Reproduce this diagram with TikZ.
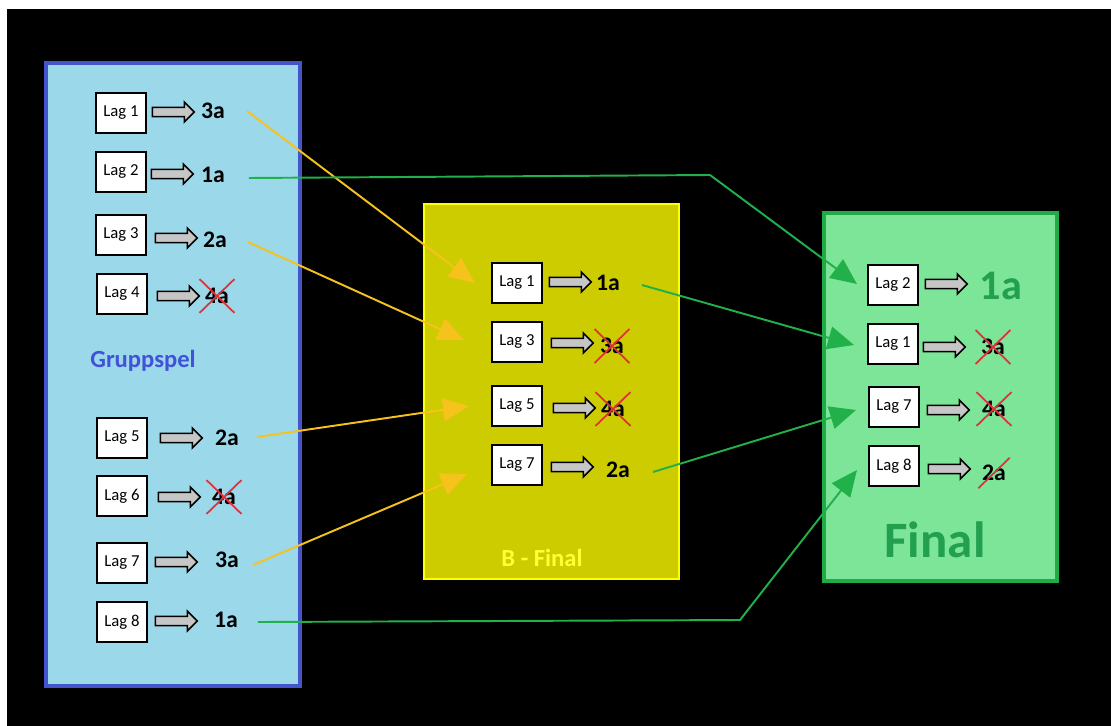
\documentclass[tikz,border=0pt]{standalone}
\usepackage{fontspec}
\setmainfont{Carlito}
\usetikzlibrary{arrows.meta,shapes.arrows,calc}

\definecolor{gblue}{HTML}{9BD8EA}
\definecolor{gblueline}{HTML}{4455CC}
\definecolor{gbluetext}{HTML}{4152D8}
\definecolor{bfill}{HTML}{CCCC00}
\definecolor{bline}{HTML}{FFFF00}
\definecolor{btext}{HTML}{FFFF33}
\definecolor{ffill}{HTML}{7CE597}
\definecolor{fline}{HTML}{22AA46}
\definecolor{ftext}{HTML}{22A050}
\definecolor{ylink}{HTML}{F6C21C}
\definecolor{glink}{HTML}{22B04B}
\definecolor{xred}{HTML}{E0303A}

\begin{document}
\begin{tikzpicture}[x=0.02cm,y=-0.02cm,
  lag/.style={draw=black, fill=white, line width=1.2pt, minimum width=1cm,
    minimum height=0.8cm, inner sep=0pt, font=\fontsize{9.5}{9.5}\selectfont},
  pil/.style={single arrow, draw=black, fill=gray!45, line width=0.9pt,
    minimum height=0.84cm, inner sep=2.2pt, single arrow head extend=3pt},
  res/.style={font=\bfseries\fontsize{13.5}{13.5}\selectfont, inner sep=1pt},
  kryss/.style={res, inner xsep=3pt, inner ysep=5pt,
    append after command={(\tikzlastnode.north west) edge[xline] (\tikzlastnode.south east)
      (\tikzlastnode.south west) edge[xline] (\tikzlastnode.north east)}},
  strek/.style={res, inner xsep=2pt, inner ysep=4pt,
    append after command={(\tikzlastnode.south west) edge[xline] (\tikzlastnode.north east)}},
  xline/.style={draw=xred, line width=1pt},
  gul/.style={draw=ylink, line width=1.1pt, -{Triangle[length=0.52cm,width=0.46cm]}},
  gron/.style={draw=glink, line width=1.1pt, -{Triangle[length=0.52cm,width=0.46cm]}}
]

\useasboundingbox (0,0) rectangle (1111,726);
\fill[white] (0,0) rectangle (1111,726);
\fill[black] (7,9) rectangle (1111,726);

% panels
\draw[fill=gblue, draw=gblueline, line width=1.8pt] (46,63) rectangle (300,686);
\draw[fill=bfill, draw=bline, line width=1.3pt] (424,204) rectangle (679,579);
\draw[fill=ffill, draw=fline, line width=1.8pt] (824,213) rectangle (1057,581);

\node[text=gbluetext, font=\bfseries\fontsize{14}{14}\selectfont] (grp) at (143,361) {Gruppspel};
\node[text=btext, font=\bfseries\fontsize{14}{14}\selectfont] (bfin) at (542,558) {B - Final};
\node[text=ftext, font=\bfseries\fontsize{29}{29}\selectfont] (fin) at (935,540) {Final};

% Gruppspel
\node[lag] (g1) at (121,113) {Lag 1};
\node[pil] (g1p) at (171,112) {};
\node[res] (g1r) at (213,111) {3a};
\node[lag] (g2) at (121,172) {Lag 2};
\node[pil] (g2p) at (170,174) {};
\node[res] (g2r) at (213,175) {1a};
\node[lag] (g3) at (121,235) {Lag 3};
\node[pil] (g3p) at (174,238) {};
\node[res] (g3r) at (215,240) {2a};
\node[lag] (g4) at (122,294) {Lag 4};
\node[pil] (g4p) at (176,296) {};
\node[kryss] (g4r) at (217,296) {4a};

\node[lag] (g5) at (122,438) {Lag 5};
\node[pil] (g5p) at (179,438) {};
\node[res] (g5r) at (227,438) {2a};
\node[lag] (g6) at (122,496) {Lag 6};
\node[pil] (g6p) at (177,497) {};
\node[kryss] (g6r) at (224,497) {4a};
\node[lag] (g7) at (122,563) {Lag 7};
\node[pil] (g7p) at (174,562) {};
\node[res] (g7r) at (227,560) {3a};
\node[lag] (g8) at (122,622) {Lag 8};
\node[pil] (g8p) at (174,621) {};
\node[res] (g8r) at (226,620) {1a};

% B - Final
\node[lag] (b1) at (517,283) {Lag 1};
\node[pil] (b1p) at (568,282) {};
\node[res] (b1r) at (608,283) {1a};
\node[lag] (b3) at (517,342) {Lag 3};
\node[pil] (b3p) at (570,343) {};
\node[kryss] (b3r) at (612,346) {3a};
\node[lag] (b5) at (517,406) {Lag 5};
\node[pil] (b5p) at (572,408) {};
\node[kryss] (b5r) at (613,409) {4a};
\node[lag] (b7) at (517,465) {Lag 7};
\node[pil] (b7p) at (570,467) {};
\node[res] (b7r) at (618,470) {2a};

% Final
\node[lag] (f2) at (893,285) {Lag 2};
\node[pil] (f2p) at (944,284) {};
\node[res, text=ftext, font=\bfseries\fontsize{24}{24}\selectfont] (f2r) at (1001,286) {1a};
\node[lag] (f1) at (893,344) {Lag 1};
\node[pil] (f1p) at (942,347) {};
\node[kryss] (f1r) at (993,347) {3a};
\node[lag] (f7) at (894,407) {Lag 7};
\node[pil] (f7p) at (946,410) {};
\node[kryss] (f7r) at (994,409) {4a};
\node[lag] (f8) at (894,466) {Lag 8};
\node[pil] (f8p) at (947,469) {};
\node[strek] (f8r) at (994,473) {2a};

\coordinate (k1) at (710,175);
\coordinate (k2) at (740,620);

% links
\draw[gul] ($(g1r.east)+(20,0)$) -- ($(b1.west)+(-16,0)$);
\draw[gul] ($(g3r.east)+(19,2)$) -- ($(b3.west)+(-27,-2)$);
\draw[gul] ($(g5r.east)+(16,-1)$) -- ($(b5.west)+(-22,0)$);
\draw[gul] ($(g7r.east)+(12,5)$) -- ($(b7.west)+(-24,9)$);

\draw[gron] ($(g2r.east)+(22,3)$) -- (k1) -- ($(f2.west)+(-10,-1)$);
\draw[gron] ($(b1r.east)+(20,2)$) -- ($(f1.west)+(-13,1)$);
\draw[gron] ($(b7r.east)+(21,2)$) -- ($(f7.west)+(-12,3)$);
\draw[gron] ($(g8r.east)+(18,2)$) -- (k2) -- ($(f8.west)+(-11,4)$);

\end{tikzpicture}
\end{document}
